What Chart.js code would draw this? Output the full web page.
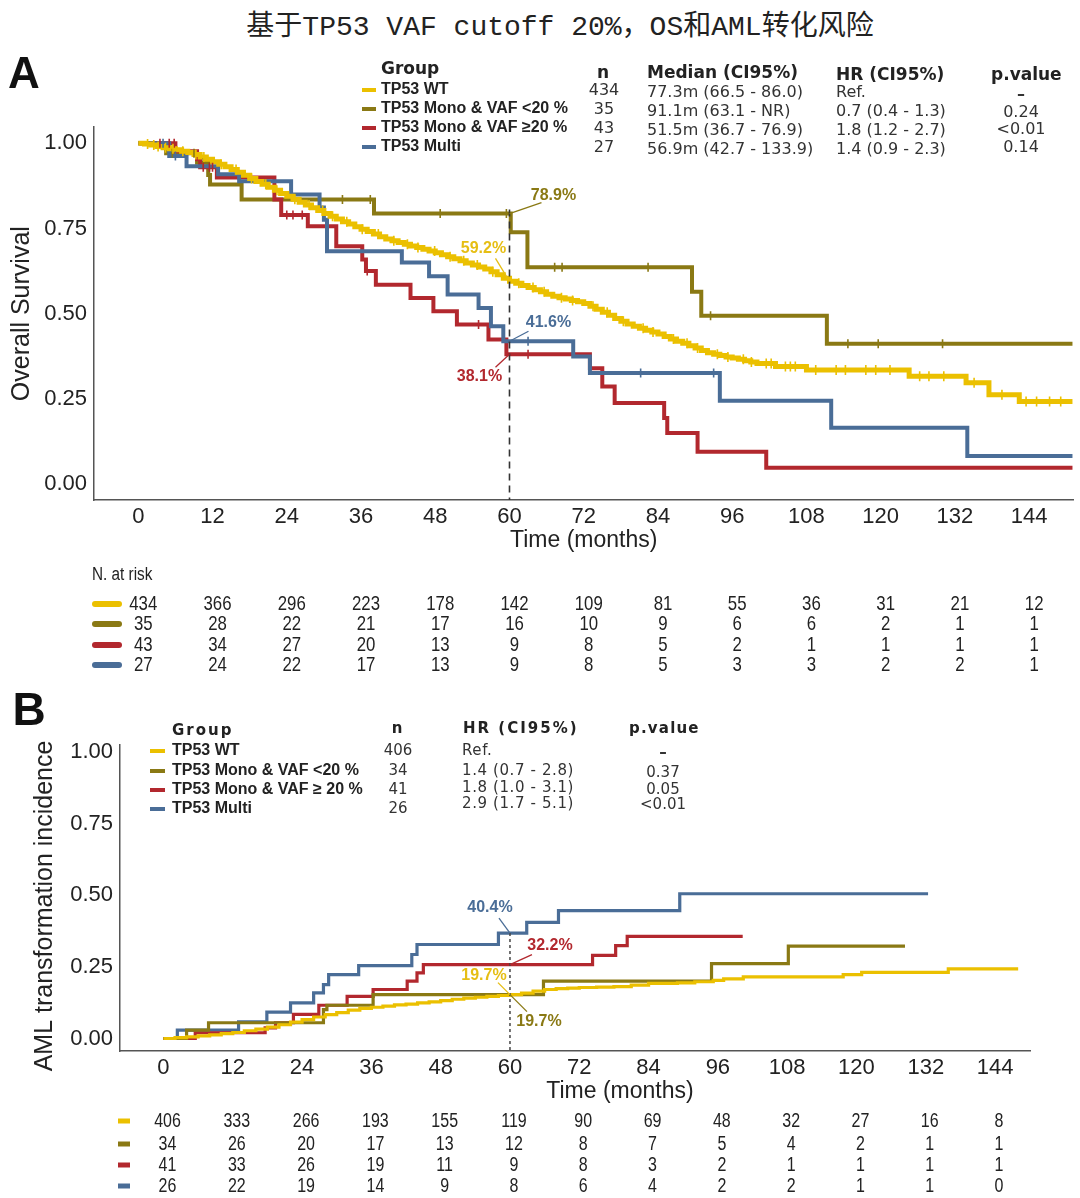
<!DOCTYPE html>
<html><head><meta charset="utf-8">
<script src="https://cdn.jsdelivr.net/npm/chart.js@4.4.0/dist/chart.umd.min.js"></script>
<style>
html,body{margin:0;padding:0;background:#fff;}
body{width:1080px;height:1198px;position:relative;overflow:hidden;}
#title{position:absolute;left:0;top:3px;width:1120px;text-align:center;font:28px "Liberation Mono","Noto Sans CJK SC";color:#222;white-space:nowrap;}
#cA{position:absolute;left:0;top:0;}
#cB{position:absolute;left:0;top:690px;}
</style></head><body>
<div id="title">基于TP53 VAF cutoff 20%，OS和AML转化风险</div>
<canvas id="cA" width="1080" height="690"></canvas>
<canvas id="cB" width="1080" height="508"></canvas>
<script>
// ---------------- DATA ----------------
const tickMonths = [0,12,24,36,48,60,72,84,96,108,120,132,144];
const yTicks = [0,0.25,0.5,0.75,1];
const groupsA = ['TP53 WT','TP53 Mono & VAF <20 %','TP53 Mono & VAF ≥20 %','TP53 Multi'];
const groupsB = ['TP53 WT','TP53 Mono & VAF <20 %','TP53 Mono & VAF ≥ 20 %','TP53 Multi'];
const markMonth = 60;

// Panel A: overall survival (step curves)
const osWtT = [0,1,2,3,4,5,6,7,8,9,10,11,12,13,14,15,16,17,18,19,20,21,22,23,24,25,26,27,28,29,30,31,32,33,34,35,36,37,38,39,40,41,42,43,44,45,46,47,48,49,50,51,52,53,54,55,56,57,58,59,60,61,62,63,64,65,66,67,68,69,70,71,72,73,74,75,76,77,78,79,80,81,82,83,84,85,86,87,88,89,90,91,92,93,94,95,96,97,98,99,100,103,108,124.6,133.8,137.5,142.4,151];
const osWtS = [1.000,0.998,0.995,0.991,0.987,0.984,0.981,0.977,0.973,0.967,0.960,0.953,0.946,0.939,0.931,0.923,0.915,0.906,0.897,0.888,0.880,0.871,0.862,0.853,0.845,0.836,0.827,0.819,0.811,0.803,0.794,0.786,0.778,0.770,0.763,0.755,0.748,0.741,0.734,0.726,0.719,0.714,0.709,0.704,0.699,0.694,0.689,0.684,0.679,0.673,0.667,0.661,0.655,0.649,0.643,0.637,0.631,0.623,0.614,0.604,0.595,0.589,0.583,0.577,0.570,0.564,0.557,0.551,0.547,0.543,0.539,0.535,0.530,0.522,0.513,0.504,0.495,0.486,0.478,0.470,0.463,0.457,0.451,0.446,0.440,0.433,0.426,0.419,0.413,0.406,0.399,0.392,0.385,0.381,0.377,0.373,0.370,0.366,0.362,0.358,0.354,0.345,0.335,0.316,0.297,0.262,0.242,0.242];
const osLowT = [0,4.5,9.5,11.3,11.6,16.7,38.1,60.2,62.9,89.5,91,111.3,151];
const osLowS = [1,0.971,0.943,0.907,0.879,0.835,0.794,0.739,0.636,0.564,0.494,0.412,0.412];
const osHighT = [0,6,9.5,10,12.7,22,23.1,27.4,32,36.2,36.8,38.4,44,47.7,51.5,56.6,59.5,73,75,77,85,85.5,90.4,101.5,151];
const osHighS = [1,0.977,0.953,0.93,0.9,0.835,0.79,0.757,0.698,0.659,0.625,0.585,0.546,0.507,0.468,0.424,0.381,0.34,0.286,0.238,0.194,0.15,0.095,0.048,0.048];
const osMultiT = [0,5,7.8,12.9,16.3,24.7,29.3,30,30.5,42.6,47,50,55,57,59,70.3,73,94,112,134,151];
const osMultiS = [1,0.963,0.933,0.909,0.889,0.85,0.812,0.776,0.683,0.65,0.61,0.556,0.517,0.463,0.419,0.374,0.326,0.244,0.165,0.082,0.082];
// censoring times (marks)
const censWt = [1.5,2.5,3.2,4.4,5.6,7.2,9.3,10.6,13.4,15.8,18.3,20.6,22.4,25.3,27.6,29.8,31.4,33.7,36.2,38.8,41.3,43.5,45.2,47.9,50.4,52.6,54.8,57.3,61.5,63.8,65.6,68.4,70.2,73.5,75.8,78.4,81.6,83.2,86.5,88.7,90.4,93.6,95.3,97.8,99.1,101.5,102.3,104.6,105.4,106.2,109.5,112.8,114.3,117.6,119.2,121.5,126.3,127.8,130.2,135.1,139.6,143.5,145.2,147.3,149.1];
const censLow = [5.5,9,10.5,33,37.5,48.8,59.5,67.3,68.5,82.4,92.5,114.7,119.6,130];
const censHigh = [3.5,5,5.8,10.5,11.5,12,24,25,26.5,37,55,63];
const censMulti = [4,6,63,81.2,93];

// Panel A legend table
const nA = [434,35,43,27];
const medianA = ['77.3m (66.5 - 86.0)','91.1m (63.1 - NR)','51.5m (36.7 - 76.9)','56.9m (42.7 - 133.9)'];
const hrA = ['Ref.','0.7 (0.4 - 1.3)','1.8 (1.2 - 2.7)','1.4 (0.9 - 2.3)'];
const pA = ['–','0.24','<0.01','0.14'];
const labelsA = ['59.2%','78.9%','38.1%','41.6%'];
// Panel A numbers at risk
const riskA_wt = [434,366,296,223,178,142,109,81,55,36,31,21,12];
const riskA_low = [35,28,22,21,17,16,10,9,6,6,2,1,1];
const riskA_high = [43,34,27,20,13,9,8,5,2,1,1,1,1];
const riskA_multi = [27,24,22,17,13,9,8,5,3,3,2,2,1];

// Panel B: AML transformation incidence (step curves)
const amlWtT = [0,2,4,6,8,10,12,14,16,18,20,22,24,26,28,30,32,34,36,38,40,42,44,46,48,50,52,54,56,58,60,62,64,66,68,70,72,75,78,81,84,89,92,95.2,97,100.4,117.7,120.9,135.9,148];
const amlWtS = [0,0.003,0.006,0.009,0.013,0.017,0.021,0.027,0.033,0.040,0.048,0.057,0.066,0.075,0.083,0.090,0.099,0.105,0.109,0.113,0.117,0.120,0.124,0.128,0.132,0.137,0.141,0.144,0.147,0.150,0.153,0.158,0.165,0.171,0.174,0.176,0.178,0.179,0.181,0.186,0.192,0.194,0.198,0.203,0.208,0.215,0.223,0.231,0.243,0.243];
const amlLowT = [0,4,7.8,27.7,28.3,36.3,65.8,94.9,108.2,128.4];
const amlLowS = [0,0.029,0.055,0.101,0.116,0.153,0.2,0.261,0.322,0.322];
const amlHighT = [0,5.5,17.6,19.4,22.5,26.9,31.8,36.3,42.2,43.9,45,74.3,78.3,80.3,100.3];
const amlHighS = [0,0.02,0.037,0.055,0.084,0.116,0.147,0.171,0.2,0.229,0.258,0.29,0.324,0.356,0.356];
const amlMultiT = [0,2.4,13,17.9,22,26,27.7,28.6,33.8,43,43.9,58,62.9,68.4,89.4,132.4];
const amlMultiS = [0,0.029,0.058,0.092,0.124,0.159,0.188,0.223,0.254,0.293,0.328,0.368,0.405,0.446,0.505,0.505];
// Panel B legend table
const nB = [406,34,41,26];
const hrB = ['Ref.','1.4 (0.7 - 2.8)','1.8 (1.0 - 3.1)','2.9 (1.7 - 5.1)'];
const pB = ['–','0.37','0.05','<0.01'];
const labelsB = ['19.7%','19.7%','32.2%','40.4%'];
// Panel B numbers at risk
const riskB_wt = [406,333,266,193,155,119,90,69,48,32,27,16,8];
const riskB_low = [34,26,20,17,13,12,8,7,5,4,2,1,1];
const riskB_high = [41,33,26,19,11,9,8,3,2,1,1,1,1];
const riskB_multi = [26,22,19,14,9,8,6,4,2,2,1,1,0];

// ---------------- STYLE ----------------
const COLORS = ['#EBC000','#8A7914','#B2282E','#4A6D97'];
const LABEL_COLORS = ['#E6BE14','#8A7914','#B2282E','#4A6D97'];
const SANS = '"Liberation Sans", Arial, sans-serif';
const DJ = '"DejaVu Sans", Verdana, sans-serif';

function stepAt(ts, vs, t){ let v = vs[0]; for (let i=0;i<ts.length;i++){ if (ts[i] <= t) v = vs[i]; else break; } return v; }
function pts(ts, vs){ return ts.map((t,i)=>({x:t, y:vs[i]})); }
function txt(ctx, s, x, y, font, color, align, base, ls, sx){
  ctx.save(); ctx.font = font; ctx.fillStyle = color; ctx.textAlign = align||'left'; ctx.textBaseline = base||'middle';
  if ('letterSpacing' in ctx) ctx.letterSpacing = ls||'0px';
  ctx.translate(x, y); if (sx) ctx.scale(sx, 1);
  ctx.fillText(s, 0, 0); ctx.restore();
}
function seg(ctx, x1,y1,x2,y2,color,w,dash,cap){
  ctx.save(); ctx.strokeStyle=color; ctx.lineWidth=w; ctx.setLineDash(dash||[]); ctx.lineCap=cap||'butt';
  ctx.beginPath(); ctx.moveTo(x1,y1); ctx.lineTo(x2,y2); ctx.stroke(); ctx.restore();
}

function scaleOpts(min, max, ticksArr, fmt, fitKey, fitVal, pad){
  return {
    type:'linear', min:min, max:max,
    afterBuildTicks: s => { s.ticks = ticksArr.map(v=>({value:v})); },
    afterFit: s => { s[fitKey] = fitVal; },
    ticks:{ callback: fmt, font:{family:SANS, size:22}, color:'#222', padding:pad, maxRotation:0, autoSkip:false },
    grid:{ display:false, drawTicks:false },
    border:{ display:true, color:'#555', width:1.5 }
  };
}

// ---------------- PANEL A ----------------
const seriesA = [ {t:osWtT,s:osWtS,c:censWt}, {t:osLowT,s:osLowS,c:censLow}, {t:osHighT,s:osHighS,c:censHigh}, {t:osMultiT,s:osMultiS,c:censMulti} ];
const drawOrderA = [0,3,2,1];
const dsA = [];
drawOrderA.forEach(i=>{
  const sr = seriesA[i];
  dsA.push({type:'scatter', data: sr.c.map(t=>({x:t, y:stepAt(sr.t, sr.s, t)})), pointStyle:'line', rotation:90, pointRadius:i===0?5:4.5, borderColor:COLORS[i], borderWidth:1.6, backgroundColor:COLORS[i], showLine:false});
});
drawOrderA.forEach(i=>{
  const sr = seriesA[i];
  dsA.push({type:'line', data: pts(sr.t, sr.s), stepped:true, borderColor:COLORS[i], borderWidth:i===0?5:4, pointRadius:0, fill:false});
});

const annA = [ // [series, dx, dy, leaderDx, leaderDy]
  [1, 44, -18, 32, -11],
  [0, -26, -33, -14, -23],
  [3, 39, -19, 19, -10],
  [2, -30, 22, -14, 13]
];

const pluginA = { id:'pA', afterDraw(chart){
  const {ctx, chartArea:ca} = chart; const x = chart.scales.x, y = chart.scales.y;
  const xm = x.getPixelForValue(markMonth);
  const topV = Math.max(...seriesA.map(s=>stepAt(s.t,s.s,markMonth)));
  seg(ctx, xm, y.getPixelForValue(topV)-4, xm, ca.bottom, '#333', 1.6, [7,5]);
  annA.forEach(a=>{
    const sr = seriesA[a[0]]; const ay = y.getPixelForValue(stepAt(sr.t, sr.s, markMonth));
    seg(ctx, xm, ay, xm+a[3], ay+a[4], LABEL_COLORS[a[0]], 1.3);
    txt(ctx, labelsA[a[0]], xm+a[1], ay+a[2], 'bold 16px '+SANS, LABEL_COLORS[a[0]], 'center');
  });
  txt(ctx, 'Time (months)', (x.getPixelForValue(60)+x.getPixelForValue(84))/2, 541, '23px '+SANS, '#222', 'center');
  ctx.save(); ctx.translate(22, (y.getPixelForValue(0)+y.getPixelForValue(1))/2); ctx.rotate(-Math.PI/2);
  txt(ctx, 'Overall Survival', 0, 0, '25px '+SANS, '#222', 'center'); ctx.restore();
  txt(ctx, 'A', 24, 76, 'bold 44px '+SANS, '#111', 'center');
  // legend table
  txt(ctx, 'Group', 381, 70, 'bold 17px '+DJ, '#222');
  txt(ctx, 'n', 603, 74, 'bold 17px '+DJ, '#222', 'center');
  txt(ctx, 'Median (CI95%)', 647, 74, 'bold 17px '+DJ, '#222');
  txt(ctx, 'HR (CI95%)', 836, 76, 'bold 17px '+DJ, '#222');
  txt(ctx, 'p.value', 991, 76, 'bold 17px '+DJ, '#222');
  const rowsA = [90,109,128,147];
  const pY = [95,113,130,148];
  rowsA.forEach((ry,i)=>{
    seg(ctx, 362, ry, 376, ry, COLORS[i], 4);
    txt(ctx, groupsA[i], 381, ry, 'bold 16px '+SANS, '#222');
    txt(ctx, String(nA[i]), 604, ry+1, '16px '+DJ, '#333', 'center');
    txt(ctx, medianA[i], 647, ry+3, '16px '+DJ, '#333');
    txt(ctx, hrA[i], 836, ry+3, '16px '+DJ, '#333');
    txt(ctx, pA[i], 1021, pY[i], (i===0?'bold ':'')+'16px '+DJ, '#333', 'center');
  });
  // numbers at risk
  txt(ctx, 'N. at risk', 92, 575, '18px '+SANS, '#222', 'left', 'middle', '0px', 0.85);
  const riskA = [riskA_wt, riskA_low, riskA_high, riskA_multi];
  const riskY = [604,624,645,665];
  riskA.forEach((row,i)=>{
    seg(ctx, 95, riskY[i], 119, riskY[i], COLORS[i], 6, null, 'round');
    row.forEach((v,j)=>{ txt(ctx, String(v), x.getPixelForValue(tickMonths[j])+5, riskY[i], '21px '+SANS, '#222', 'center', 'middle', '0px', 0.8); });
  });
}};

new Chart(document.getElementById('cA'), {
  type:'line',
  data:{ datasets: dsA },
  options:{
    responsive:false, animation:false, devicePixelRatio:1, events:[],
    layout:{ padding:{ left:0, top:127, right:2, bottom:130 } },
    plugins:{ legend:{display:false}, tooltip:{enabled:false} },
    scales:{
      x: scaleOpts(-7.16, 151.15, tickMonths, v=>String(v), 'height', 60, 4),
      y: scaleOpts(-0.047, 1.048, yTicks, v=>Number(v).toFixed(2), 'width', 94, 7)
    }
  },
  plugins:[pluginA]
});

// ---------------- PANEL B ----------------
const OFF = 690;
const seriesB = [ {t:amlWtT,s:amlWtS}, {t:amlLowT,s:amlLowS}, {t:amlHighT,s:amlHighS}, {t:amlMultiT,s:amlMultiS} ];
const dsB = [0,1,2,3].map(i=>({type:'line', data: pts(seriesB[i].t, seriesB[i].s), stepped:true, borderColor:COLORS[i], borderWidth:3.2, pointRadius:0, fill:false}));
const annB = [
  [3, -20, -25, -11, -15],
  [2, 40, -19, 22, -10],
  [0, -26, -19, -12, -12],
  [1, 29, 27, 17, 17]
];
const pluginB = { id:'pB', afterDraw(chart){
  const {ctx, chartArea:ca} = chart; const x = chart.scales.x, y = chart.scales.y;
  const xm = x.getPixelForValue(markMonth);
  const topV = Math.max(...seriesB.map(s=>stepAt(s.t,s.s,markMonth)));
  seg(ctx, xm, y.getPixelForValue(topV), xm, ca.bottom, '#444', 1.5, [3,3]);
  annB.forEach(a=>{
    const sr = seriesB[a[0]]; const ay = y.getPixelForValue(stepAt(sr.t, sr.s, markMonth));
    seg(ctx, xm, ay, xm+a[3], ay+a[4], LABEL_COLORS[a[0]], 1.3);
    txt(ctx, labelsB[a[0]], xm+a[1], ay+a[2], 'bold 16px '+SANS, LABEL_COLORS[a[0]], 'center');
  });
  txt(ctx, 'Time (months)', 620, 1092-OFF, '23px '+SANS, '#222', 'center');
  ctx.save(); ctx.translate(45, 906-OFF); ctx.rotate(-Math.PI/2);
  txt(ctx, 'AML transformation incidence', 0, 0, '25px '+SANS, '#222', 'center'); ctx.restore();
  txt(ctx, 'B', 29, 712-OFF, 'bold 46px '+SANS, '#111', 'center');
  // legend table
  txt(ctx, 'Group', 172, 731-OFF, 'bold 15px '+DJ, '#222', 'left', 'middle', '2px');
  txt(ctx, 'n', 397, 729-OFF, 'bold 15px '+DJ, '#222', 'center');
  txt(ctx, 'HR (CI95%)', 463, 729-OFF, 'bold 15px '+DJ, '#222', 'left', 'middle', '2px');
  txt(ctx, 'p.value', 629, 729-OFF, 'bold 15px '+DJ, '#222', 'left', 'middle', '1.2px');
  const rowsB = [751,771,790,809];
  const hrY = [751,771,788,804];
  const pYB = [753,773,790,805];
  rowsB.forEach((ry,i)=>{
    seg(ctx, 150, ry-OFF, 165, ry-OFF, COLORS[i], 4);
    txt(ctx, groupsB[i], 172, ry-OFF, 'bold 16px '+SANS, '#222');
    txt(ctx, String(nB[i]), 398, ry-OFF, '15px '+DJ, '#333', 'center');
    txt(ctx, hrB[i], 462, hrY[i]-OFF, '15px '+DJ, '#333', 'left', 'middle', '0.6px');
    txt(ctx, pB[i], 663, pYB[i]-OFF, (i===0?'bold ':'')+'15px '+DJ, '#333', 'center');
  });
  const riskB = [riskB_wt, riskB_low, riskB_high, riskB_multi];
  const riskY = [1121,1144,1165,1186];
  riskB.forEach((row,i)=>{
    seg(ctx, 118, riskY[i]-OFF, 130, riskY[i]-OFF, COLORS[i], 5, null, 'butt');
    row.forEach((v,j)=>{ txt(ctx, String(v), x.getPixelForValue(tickMonths[j])+4, riskY[i]-OFF, '20px '+SANS, '#222', 'center', 'middle', '0px', 0.8); });
  });
}};

new Chart(document.getElementById('cB'), {
  type:'line',
  data:{ datasets: dsB },
  options:{
    responsive:false, animation:false, devicePixelRatio:1, events:[],
    layout:{ padding:{ left:0, top:55, right:50, bottom:87 } },
    plugins:{ legend:{display:false}, tooltip:{enabled:false} },
    scales:{
      x: scaleOpts(-7.53, 150.05, tickMonths, v=>String(v), 'height', 60, 4),
      y: scaleOpts(-0.0436, 1.024, yTicks, v=>Number(v).toFixed(2), 'width', 120, 7)
    }
  },
  plugins:[pluginB]
});
</script>
</body></html>
